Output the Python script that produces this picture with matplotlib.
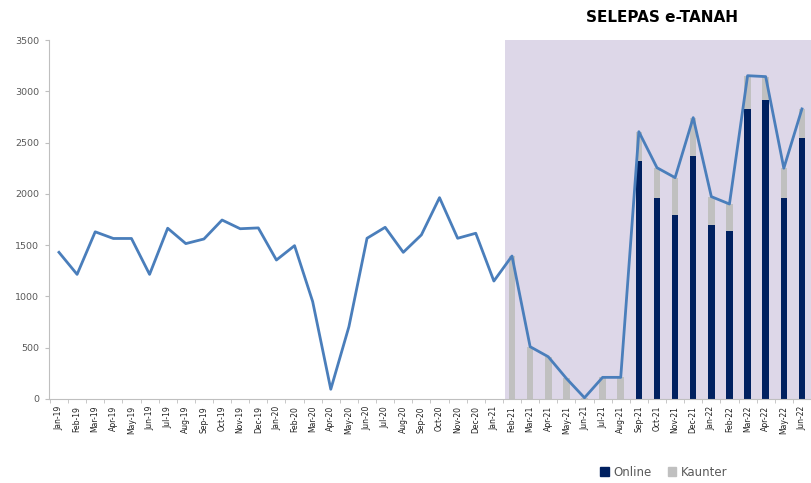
import numpy as np
import matplotlib.pyplot as plt
from matplotlib.patches import Patch

# Monthly transactions, Jan-19 .. Jun-22
months = [
    "Jan-19", "Feb-19", "Mar-19", "Apr-19", "May-19", "Jun-19", "Jul-19", "Aug-19",
    "Sep-19", "Oct-19", "Nov-19", "Dec-19",
    "Jan-20", "Feb-20", "Mar-20", "Apr-20", "May-20", "Jun-20", "Jul-20", "Aug-20",
    "Sep-20", "Oct-20", "Nov-20", "Dec-20",
    "Jan-21", "Feb-21", "Mar-21", "Apr-21", "May-21", "Jun-21", "Jul-21", "Aug-21",
    "Sep-21", "Oct-21", "Nov-21", "Dec-21",
    "Jan-22", "Feb-22", "Mar-22", "Apr-22", "May-22", "Jun-22",
]
total = [
    1430, 1215, 1630, 1565, 1565, 1215, 1665, 1515, 1560, 1745, 1660, 1668,
    1355, 1495, 950, 95, 705, 1567, 1674, 1430, 1600, 1963, 1567, 1616,
    1150, 1394, 510, 412, 201, 12, 211, 211,
    2606, 2255, 2158, 2743, 1973, 1901, 3152, 3143, 2250, 2828,
]

# e-Tanah period starts Feb-21
bar_months = months[25:]
online = [0, 0, 0, 0, 0, 0, 0,
          2320, 1957, 1794, 2372, 1697, 1638, 2825, 2915, 1963, 2548]
kaunter = [t - o for t, o in zip(total[25:], online)]

x = np.arange(len(months))
xb = np.arange(25, len(months))

fig = plt.figure(figsize=(8.11, 4.83), dpi=100)
ax = fig.add_axes([49 / 811, 1 - 399 / 483, 1 - 49 / 811, (399 - 40) / 483])

ax.axvspan(24.6, 45, color="#ddd7e8", lw=0, zorder=0)

ax.bar(xb, online, width=0.36, color="#002060", zorder=2, label="Online")
ax.bar(xb, kaunter, width=0.36, bottom=online, color="#c0c0c0", zorder=2,
       label="Kaunter")
ax.plot(x, total, color="#4a7ebb", linewidth=2.0, zorder=3)

ax.set_xlim(-0.55, 41.23)
ax.set_ylim(0, 3500)
ax.set_yticks(np.arange(0, 3501, 500))
ax.tick_params(axis="y", labelsize=6.8, labelcolor="#595959", length=3,
               color="#bfbfbf", pad=4)

ax.set_xticks(x)
ax.set_xticklabels(months, rotation=90, fontsize=5.5, color="#202020")
ax.tick_params(axis="x", which="major", length=0, pad=5)
ax.set_xticks(np.arange(-0.5, 42, 1), minor=True)
ax.tick_params(axis="x", which="minor", length=3, color="#bfbfbf")

for side in ["top", "right"]:
    ax.spines[side].set_visible(False)
for side in ["left", "bottom"]:
    ax.spines[side].set_color("#bfbfbf")

fig.text(662 / 811, 1 - 18 / 483, "SELEPAS e-TANAH", ha="center", va="center",
         fontsize=11, fontweight="bold")

handles = [Patch(color="#002060"), Patch(color="#c0c0c0")]
fig.legend(handles, ["Online", "Kaunter"], loc="center", ncol=2,
           bbox_to_anchor=(664 / 811, 1 - 472 / 483), frameon=False,
           fontsize=8.5, labelcolor="#595959", handlelength=0.7, handleheight=0.7,
           handletextpad=0.4, columnspacing=1.4)

plt.savefig("out.png", dpi=100)
